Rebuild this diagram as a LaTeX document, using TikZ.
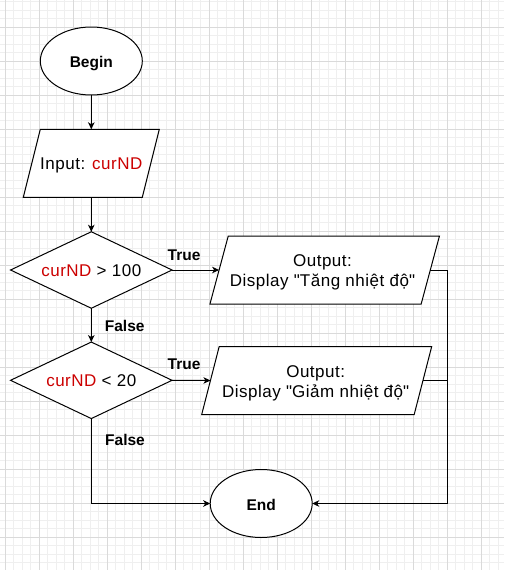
\documentclass[tikz,border=0pt]{standalone}
\usepackage{fontspec}
\setmainfont{Liberation Sans}
\newfontfamily\regfont{Liberation Sans}[LetterSpace=3]
\usetikzlibrary{shapes.geometric,arrows.meta}
\definecolor{nd}{HTML}{CC0000}
\definecolor{gminor}{HTML}{EFEFEF}
\definecolor{gmajor}{HTML}{DADADA}
\newcommand\dq{\XeTeXglyph\XeTeXcharglyph"22\relax}
\newcommand\drawpara[2]{\draw[line width=1pt, fill=white]
  ([xshift=#2]#1.north west) -- (#1.north east) -- ([xshift=-#2]#1.south east)
  -- (#1.south west) -- cycle;}
\begin{document}
\begin{tikzpicture}[x=1pt,y=-1pt,
  shp/.style={draw=black, line width=1pt, fill=white, inner sep=0pt, outer sep=0pt,
    font=\regfont\fontsize{17}{20}\selectfont, text height=13pt, text depth=0pt},
  term/.style={shp, ellipse, minimum width=102pt, minimum height=68pt,
    font=\rmfamily\bfseries\fontsize{15.5}{18}\selectfont},
  iobox/.style={rectangle, inner sep=0pt, outer sep=0pt, minimum height=68pt},
  dec/.style={shp, diamond, shape aspect=2.11, minimum width=161.5pt, minimum height=76.5pt},
  intxt/.style={font=\regfont\fontsize{17}{20}\selectfont, inner sep=0pt, text height=13pt, text depth=0pt},
  lbl/.style={font=\bfseries\fontsize{15.5}{18}\selectfont, inner sep=0pt, anchor=base},
  otxt/.style={font=\regfont\fontsize{17}{20}\selectfont, inner sep=0pt, anchor=base},
  conn/.style={line width=1pt, draw=black},
  arr/.style={conn, -{Stealth[length=7pt,width=6.5pt,inset=2pt]}},
  gmin/.style={draw=gminor, line width=1pt},
  gmaj/.style={draw=gmajor, line width=1pt}]
\useasboundingbox (0,0) rectangle (504,570);
\fill[white] (0,0) rectangle (504,570);
% grid
\foreach \i in {0,...,59} \draw[gmin] ({5.3+8.5*\i},0) -- ({5.3+8.5*\i},570);
\foreach \i in {0,...,67} \draw[gmin] (0,{1.8+8.5*\i}) -- (504,{1.8+8.5*\i});
\foreach \i in {0,...,14} \draw[gmaj] ({5.3+34*\i},0) -- ({5.3+34*\i},570);
\foreach \i in {0,...,16} \draw[gmaj] (0,{27.3+34*\i}) -- (504,{27.3+34*\i});
% shapes
\node[term] (begin) at (91.3,61) {Begin};
\node[iobox, minimum width=136pt] (input) at (91.3,163.3) {};
\drawpara{input}{17pt}
\node[intxt] (intext) at (input.center) {Input: \textcolor{nd}{curND}};
\node[dec] (d1) at (91.3,270) {\textcolor{nd}{curND} > 100};
\node[iobox, minimum width=229.5pt] (out1) at (324.7,270) {};
\drawpara{out1}{18.3pt}
\node[otxt] (o1a) at (322.5,266.7) {Output:};
\node[otxt] (o1b) at (322.5,286.7) {Display \dq Tăng nhiệt độ\dq};
\node[dec] (d2) at (91.3,380.3) {\textcolor{nd}{curND} < 20};
\node[iobox, minimum width=230pt] (out2) at (316.7,380.5) {};
\drawpara{out2}{17.5pt}
\node[otxt] (o2a) at (315.7,377.7) {Output:};
\node[otxt] (o2b) at (315.7,397.7) {Display \dq Giảm nhiệt độ\dq};
\node[term] (end) at (261.2,503.5) {End};
\coordinate (c1) at (447.3,270);
% connectors
\draw[arr] (begin.south) -- (begin.south |- input.north);
\draw[arr] (begin.south |- input.south) -- (d1.north);
\draw[arr] (d1.east) -- ([xshift=9.15pt]out1.west);
\draw[arr] (d1.south) -- (d2.north);
\draw[arr] (d2.east) -- ([xshift=8.75pt]out2.west);
\draw[arr] (d2.south) |- (end.west);
\draw[arr] ([xshift=-9.15pt]out1.east) -- (c1) |- (end.east);
\draw[conn] ([xshift=-8.75pt]out2.east) -- (out2.east -| c1);
% labels
\node[lbl] (t1) at (184,260) {True};
\node[lbl] (t2) at (184,369.3) {True};
\node[lbl] (f1) at (124.7,331.7) {False};
\node[lbl] (f2) at (125,445.7) {False};
\end{tikzpicture}
\end{document}
